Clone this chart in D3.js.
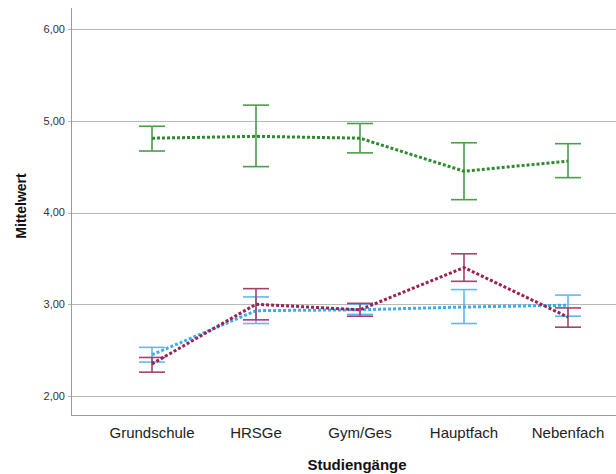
<!DOCTYPE html>
<html><head><meta charset="utf-8">
<script src="https://cdn.jsdelivr.net/npm/d3@7"></script>
<style>body{margin:0;background:#fff;overflow:hidden}svg{display:block}</style>
</head><body>
<script>
const categories = ["Grundschule","HRSGe","Gym/Ges","Hauptfach","Nebenfach"];
const yTicks = [2,3,4,5,6];
const greenMean = [4.81,4.83,4.81,4.45,4.56];
const greenLow  = [4.67,4.50,4.65,4.14,4.38];
const greenHigh = [4.94,5.17,4.97,4.76,4.75];
const blueMean  = [2.45,2.93,2.94,2.97,2.99];
const blueLow   = [2.37,2.79,2.89,2.79,2.87];
const blueHigh  = [2.53,3.08,3.00,3.16,3.10];
const redMean   = [2.35,3.00,2.94,3.40,2.86];
const redLow    = [2.26,2.83,2.87,3.25,2.75];
const redHigh   = [2.42,3.17,3.01,3.55,2.96];

const series = [
  {mean: greenMean, low: greenLow, high: greenHigh, line: "#2e8b2e", bar: "#4a9e4a"},
  {mean: blueMean, low: blueLow, high: blueHigh, line: "#3aaef2", bar: "#5bbcf3"},
  {mean: redMean, low: redLow, high: redHigh, line: "#9e1f55", bar: "#a8406c"}
];

const W = 616, H = 474;
const FONT = "Arial, 'Liberation Sans', sans-serif";
const svg = d3.select("body").append("svg").attr("width", W).attr("height", H);

const x = d3.scalePoint().domain(categories).range([152, 568]);
const y = d3.scaleLinear().domain([2, 6]).range([396, 29]);
const axisLeft = 71, axisBottom = 415, axisTop = 8;

// gridlines
svg.append("g").selectAll("line").data(yTicks).join("line")
  .attr("x1", axisLeft - 3).attr("x2", W)
  .attr("y1", d => Math.round(y(d)) + 0.5).attr("y2", d => Math.round(y(d)) + 0.5)
  .attr("stroke", "#b9b9b9").attr("stroke-width", 1);

// axes lines
svg.append("line").attr("x1", axisLeft + 0.5).attr("x2", axisLeft + 0.5)
  .attr("y1", axisTop).attr("y2", axisBottom + 0.5)
  .attr("stroke", "#9a9a9a").attr("stroke-width", 1);
svg.append("line").attr("x1", axisLeft).attr("x2", W)
  .attr("y1", axisBottom + 0.5).attr("y2", axisBottom + 0.5)
  .attr("stroke", "#9a9a9a").attr("stroke-width", 1);

// y tick labels
const fmt = v => d3.format(".2f")(v).replace(".", ",");
svg.append("g").selectAll("text").data(yTicks).join("text")
  .attr("x", 65).attr("y", d => y(d)).attr("dy", "0.35em")
  .attr("text-anchor", "end")
  .attr("font-family", FONT)
  .attr("font-size", 11).attr("fill", "#333")
  .text(fmt);

// x tick labels
svg.append("g").selectAll("text").data(categories).join("text")
  .attr("x", d => x(d)).attr("y", 438)
  .attr("text-anchor", "middle")
  .attr("font-family", FONT)
  .attr("font-size", 15).attr("fill", "#222")
  .text(d => d);

// axis titles
svg.append("text").attr("x", 357).attr("y", 470)
  .attr("text-anchor", "middle")
  .attr("font-family", FONT)
  .attr("font-size", 15).attr("font-weight", "bold").attr("fill", "#111")
  .text("Studiengänge");
svg.append("text")
  .attr("transform", "translate(26,206) rotate(-90)")
  .attr("text-anchor", "middle")
  .attr("font-family", FONT)
  .attr("font-size", 14).attr("font-weight", "bold").attr("fill", "#111")
  .text("Mittelwert");

const capW = 13;
const line = d3.line().x((d, i) => x(categories[i])).y(d => y(d));

series.forEach(s => {
  const g = svg.append("g");
  const idx = d3.range(categories.length);
  // error bars
  g.selectAll("line.v").data(idx).join("line")
    .attr("x1", i => x(categories[i])).attr("x2", i => x(categories[i]))
    .attr("y1", i => y(s.high[i])).attr("y2", i => y(s.low[i]))
    .attr("stroke", s.bar).attr("stroke-width", 1.6);
  ["high", "low"].forEach(k => {
    g.selectAll("line." + k).data(idx).join("line")
      .attr("x1", i => x(categories[i]) - capW).attr("x2", i => x(categories[i]) + capW)
      .attr("y1", i => y(s[k][i])).attr("y2", i => y(s[k][i]))
      .attr("stroke", s.bar).attr("stroke-width", 1.6);
  });
  // mean line
  g.append("path").datum(s.mean).attr("d", line)
    .attr("fill", "none").attr("stroke", s.line)
    .attr("stroke-width", 3).attr("stroke-dasharray", "3,2");
});
</script>
</body></html>
